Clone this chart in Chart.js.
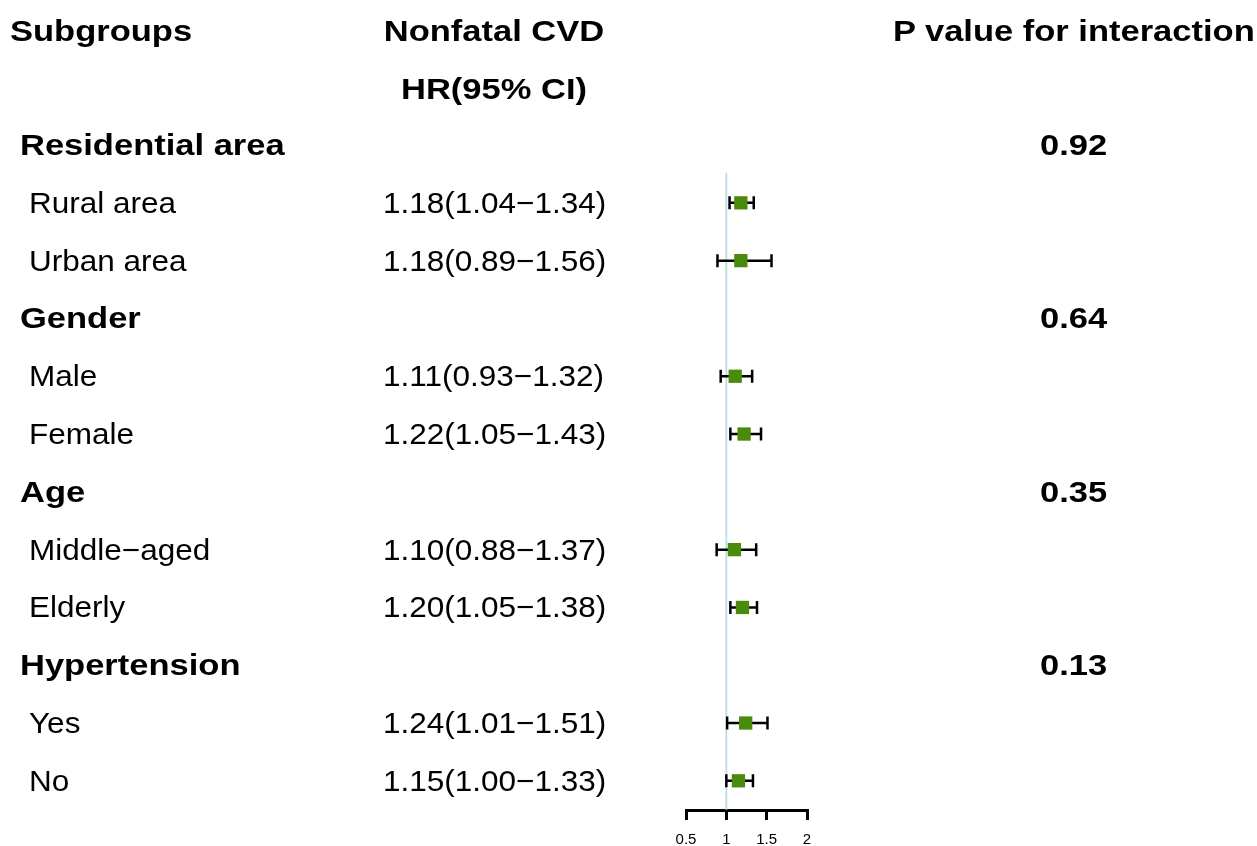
<!DOCTYPE html>
<html>
<head>
<meta charset="utf-8">
<script src="https://cdn.jsdelivr.net/npm/chart.js@4.4.0/dist/chart.umd.min.js"></script>
<style>
  html, body { margin: 0; padding: 0; background: #fff; }
  #wrap { position: relative; width: 1257px; height: 846px; }
  #plot { position: absolute; left: 0; top: 0; }
  .t {
    position: absolute; white-space: nowrap; color: #000;
    font-family: "Liberation Sans", Arial, Helvetica, sans-serif;
    line-height: 1;
  }
  .b { font-weight: bold; font-size: 30px; }
  .r { font-weight: normal; font-size: 30px; }
</style>
</head>
<body>
<div id="wrap">
  <canvas id="plot" width="1257" height="846"></canvas>
</div>
<script>
// rows, top to bottom
const subgroups = ['Residential area', 'Rural area', 'Urban area', 'Gender', 'Male', 'Female',
  'Age', 'Middle\u2212aged', 'Elderly', 'Hypertension', 'Yes', 'No'];
const isHeader = [true, false, false, true, false, false, true, false, false, true, false, false];
const hr = [null, 1.18, 1.18, null, 1.11, 1.22, null, 1.10, 1.20, null, 1.24, 1.15];
const lower = [null, 1.04, 0.89, null, 0.93, 1.05, null, 0.88, 1.05, null, 1.01, 1.00];
const upper = [null, 1.34, 1.56, null, 1.32, 1.43, null, 1.37, 1.38, null, 1.51, 1.33];
const pInteraction = ['0.92', null, null, '0.64', null, null, '0.35', null, null, '0.13', null, null];
const xTicks = [0.5, 1, 1.5, 2];
const refValue = 1;

const GREEN = '#4b8b0b';

const markerData = [];
hr.forEach((v, i) => {
  if (v !== null) markerData.push({ x: v, y: i });
});

// error bars, drawn just after the reference line so the squares sit on top
const errorBars = {
  id: 'errorBars',
  afterDatasetDraw(chart, args) {
    if (args.index !== 1) return;
    const ctx = chart.ctx;
    const xs = chart.scales.x;
    const ys = chart.scales.y;
    ctx.save();
    ctx.strokeStyle = '#000';
    ctx.lineWidth = 2.5;
    for (let i = 0; i < hr.length; i++) {
      if (hr[i] === null) continue;
      const y = ys.getPixelForValue(i);
      const x1 = xs.getPixelForValue(lower[i]);
      const x2 = xs.getPixelForValue(upper[i]);
      ctx.beginPath();
      ctx.moveTo(x1, y); ctx.lineTo(x2, y);
      ctx.moveTo(x1, y - 6.5); ctx.lineTo(x1, y + 6.5);
      ctx.moveTo(x2, y - 6.5); ctx.lineTo(x2, y + 6.5);
      ctx.stroke();
    }
    ctx.restore();
  }
};

const chart = new Chart(document.getElementById('plot'), {
  type: 'scatter',
  data: {
    datasets: [
      {
        data: markerData,
        pointStyle: 'rect',
        pointRadius: 9.4,
        pointHoverRadius: 9.4,
        backgroundColor: GREEN,
        borderWidth: 0
      },
      {
        type: 'line',
        data: [{ x: refValue, y: 0.48 }, { x: refValue, y: 11.5 }],
        borderColor: '#b9dde8',
        borderWidth: 1.8,
        pointRadius: 0,
        fill: false
      }
    ]
  },
  options: {
    responsive: false,
    animation: false,
    events: [],
    layout: { autoPadding: false, padding: { left: 686, right: 450, top: 0, bottom: 0 } },
    plugins: { legend: { display: false }, tooltip: { enabled: false } },
    scales: {
      x: {
        type: 'linear',
        min: 0.5,
        max: 2,
        afterBuildTicks: (s) => { s.ticks = xTicks.map(v => ({ value: v })); },
        afterFit: (s) => { s.height = 36; },
        ticks: {
          color: '#000',
          padding: 11,
          maxRotation: 0,
          autoSkip: false,
          font: { family: '"Liberation Sans", Arial, sans-serif', size: 15 },
          callback: (v) => String(v)
        },
        grid: { drawOnChartArea: false, drawTicks: true, tickLength: 10, lineWidth: 3, color: '#000' },
        border: { display: true, width: 3, color: '#000' }
      },
      y: {
        type: 'linear',
        display: false,
        reverse: true,
        min: -2.51,
        max: 11.505
      }
    }
  },
  plugins: [errorBars]
});

// table text placed on the same rows as the y scale
const wrap = document.getElementById('wrap');
const ys = chart.scales.y;

function addText(str, x, row, cls, align) {
  const el = document.createElement('div');
  el.className = 't ' + cls;
  el.textContent = str;
  const sx = cls === 'b' ? 1.15 : 1.05;
  el.style.top = (ys.getPixelForValue(row) + (row < 0 ? 2 : 0)) + 'px';
  el.style.left = x + 'px';
  if (align === 'center') {
    el.style.transform = 'translate(-50%, -50%) scaleX(' + sx + ')';
    el.style.transformOrigin = 'center center';
  } else {
    el.style.transform = 'translateY(-50%) scaleX(' + sx + ')';
    el.style.transformOrigin = 'left center';
  }
  wrap.appendChild(el);
}

addText('Subgroups', 10, -2, 'b');
addText('Nonfatal CVD', 494, -2, 'b', 'center');
addText('HR(95% CI)', 494, -1, 'b', 'center');
addText('P value for interaction', 893, -2, 'b');

subgroups.forEach((name, i) => {
  if (isHeader[i]) {
    addText(name, 20, i, 'b');
  } else {
    addText(name, 29, i, 'r');
    addText(hr[i].toFixed(2) + '(' + lower[i].toFixed(2) + '\u2212' + upper[i].toFixed(2) + ')', 383, i, 'r');
  }
  if (pInteraction[i] !== null) addText(pInteraction[i], 1040, i, 'b');
});
</script>
</body>
</html>
